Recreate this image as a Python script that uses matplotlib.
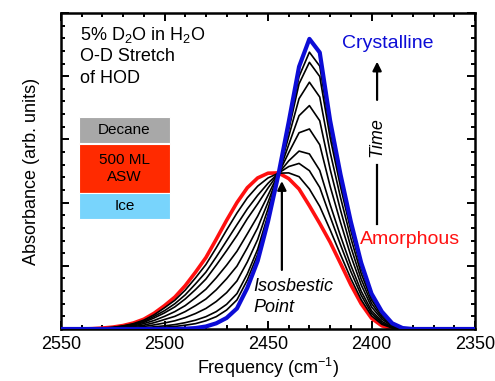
"""
Crystallization of amorphous solid water: O-D stretch of HOD
"""

import matplotlib
matplotlib.use("Agg")
import matplotlib.pyplot as plt
from matplotlib.patches import Rectangle
from matplotlib.ticker import MultipleLocator

plt.rcParams["font.family"] = ["Liberation Sans", "DejaVu Sans"]
plt.rcParams["mathtext.fontset"] = "custom"
plt.rcParams["mathtext.rm"] = "Liberation Sans"
plt.rcParams["mathtext.it"] = "Liberation Sans:italic"

# ----------------------------------------------------------------------
# Data
# ----------------------------------------------------------------------

freq = [2550, 2540, 2535, 2530, 2525, 2520, 2515, 2510, 2505, 2500, 2495,
        2490, 2485, 2480, 2475, 2470, 2465, 2460, 2455, 2450, 2445, 2440,
        2435, 2430, 2425, 2420, 2415, 2410, 2405, 2400, 2395, 2390, 2385,
        2380, 2350]

amorphous = [0, 0, 0.001, 0.003, 0.006, 0.011, 0.019, 0.031, 0.050, 0.074,
             0.101, 0.137, 0.180, 0.226, 0.284, 0.344, 0.400, 0.447, 0.478,
             0.493, 0.494, 0.476, 0.443, 0.390, 0.334, 0.275, 0.208, 0.140,
             0.080, 0.034, 0.010, 0.001, 0, 0, 0]

crystalline = [0, 0, 0, 0, 0, 0, 0, 0, 0, 0, 0, 0.001, 0.003, 0.008, 0.018,
               0.035, 0.065, 0.130, 0.215, 0.340, 0.488, 0.655, 0.830, 0.918,
               0.875, 0.660, 0.490, 0.340, 0.210, 0.112, 0.055, 0.018, 0.003,
               0, 0]

# intermediate spectra, earliest first
t1 = [0, 0, 0.001, 0.003, 0.005, 0.010, 0.017, 0.028, 0.045, 0.067, 0.091,
      0.123, 0.162, 0.204, 0.257, 0.313, 0.367, 0.415, 0.452, 0.478, 0.493,
      0.494, 0.482, 0.443, 0.388, 0.314, 0.236, 0.160, 0.093, 0.042, 0.015,
      0.003, 0, 0, 0]
t2 = [0, 0, 0.001, 0.002, 0.005, 0.009, 0.015, 0.024, 0.040, 0.058, 0.080,
      0.108, 0.143, 0.180, 0.228, 0.279, 0.330, 0.380, 0.423, 0.461, 0.493,
      0.514, 0.524, 0.501, 0.448, 0.356, 0.267, 0.182, 0.107, 0.050, 0.019,
      0.005, 0.001, 0, 0]
t3 = [0, 0, 0.001, 0.002, 0.004, 0.008, 0.013, 0.021, 0.035, 0.051, 0.070,
      0.095, 0.125, 0.158, 0.202, 0.248, 0.296, 0.349, 0.396, 0.446, 0.492,
      0.532, 0.563, 0.554, 0.502, 0.394, 0.295, 0.202, 0.120, 0.058, 0.024,
      0.006, 0.001, 0, 0]
t4 = [0, 0, 0.001, 0.002, 0.003, 0.006, 0.010, 0.017, 0.027, 0.040, 0.055,
      0.074, 0.099, 0.126, 0.162, 0.202, 0.246, 0.301, 0.357, 0.423, 0.491,
      0.558, 0.621, 0.633, 0.583, 0.452, 0.338, 0.232, 0.140, 0.070, 0.031,
      0.009, 0.001, 0, 0]
t5 = [0, 0, 0, 0.001, 0.002, 0.004, 0.008, 0.012, 0.020, 0.030, 0.040,
      0.055, 0.074, 0.095, 0.124, 0.159, 0.199, 0.257, 0.320, 0.401, 0.490,
      0.583, 0.675, 0.707, 0.659, 0.506, 0.377, 0.260, 0.158, 0.081, 0.037,
      0.011, 0.002, 0, 0]
t6 = [0, 0, 0, 0.001, 0.002, 0.003, 0.005, 0.008, 0.013, 0.019, 0.026,
      0.036, 0.049, 0.065, 0.087, 0.115, 0.152, 0.212, 0.283, 0.380, 0.490,
      0.609, 0.729, 0.781, 0.734, 0.560, 0.417, 0.288, 0.176, 0.092, 0.043,
      0.014, 0.002, 0, 0]
t7 = [0, 0, 0, 0, 0.001, 0.002, 0.003, 0.004, 0.007, 0.010, 0.014,
      0.020, 0.028, 0.039, 0.055, 0.078, 0.112, 0.174, 0.252, 0.361, 0.489,
      0.630, 0.776, 0.844, 0.799, 0.606, 0.451, 0.312, 0.192, 0.101, 0.049,
      0.016, 0.003, 0, 0]
t8 = [0, 0, 0, 0, 0, 0.001, 0.002, 0.002, 0.004, 0.006, 0.008,
      0.012, 0.017, 0.026, 0.039, 0.060, 0.092, 0.155, 0.236, 0.352, 0.489,
      0.641, 0.799, 0.876, 0.832, 0.629, 0.467, 0.324, 0.200, 0.106, 0.051,
      0.017, 0.003, 0, 0]
intermediates = [t1, t2, t3, t4, t5, t6, t7, t8]

layer_labels = ["Decane", "500 ML\nASW", "Ice"]

# ----------------------------------------------------------------------
# Figure
# ----------------------------------------------------------------------

BLUE = "#0c0cd6"
RED = "#ff1010"
layer_colors = ["#a8a8a8", "#ff2a00", "#78d4fc"]
layer_bounds = [(0.5886, 0.6709), (0.4304, 0.5854), (0.3481, 0.4304)]

fig = plt.figure(figsize=(4.95, 3.81), dpi=100)
ax = fig.add_axes([61 / 495, 52 / 381, 414 / 495, 316 / 381])

ax.plot(freq, amorphous, color=RED, lw=2.6, zorder=2)
for spec in intermediates:
    ax.plot(freq, spec, color="black", lw=1.2, zorder=3)
ax.plot(freq, crystalline, color=BLUE, lw=3.0, zorder=4)

ax.set_xlim(2550, 2350)
ax.set_ylim(0, 1)
ax.xaxis.set_major_locator(MultipleLocator(50))
ax.xaxis.set_minor_locator(MultipleLocator(10))
ax.yaxis.set_major_locator(MultipleLocator(0.2))
ax.yaxis.set_minor_locator(MultipleLocator(0.04))
ax.tick_params(which="both", direction="in", top=True, right=True, width=1.4,
               labelsize=13)
ax.tick_params(which="major", length=6)
ax.tick_params(which="minor", length=3)
ax.tick_params(axis="y", labelleft=False)
ax.tick_params(axis="x", pad=5)
for sp in ax.spines.values():
    sp.set_linewidth(1.8)

ax.set_xlabel("Frequency (cm$^{-1}$)", fontsize=13, labelpad=2)
ax.set_ylabel("Absorbance (arb. units)", fontsize=13, labelpad=12)

# sample description
ax.text(0.046, 0.914, "5% D$_2$O in H$_2$O", transform=ax.transAxes,
        fontsize=13, va="baseline")
ax.text(0.046, 0.848, "O-D Stretch", transform=ax.transAxes, fontsize=13,
        va="baseline")
ax.text(0.046, 0.778, "of HOD", transform=ax.transAxes, fontsize=13,
        va="baseline")

# film stack
for label, color, (y0, y1) in zip(layer_labels, layer_colors, layer_bounds):
    ax.add_patch(Rectangle((0.0435, y0), 0.2198, y1 - y0, transform=ax.transAxes,
                           facecolor=color, edgecolor="white", lw=0.8, zorder=5))
    ax.text(0.1534, (y0 + y1) / 2, label, transform=ax.transAxes, fontsize=11,
            ha="center", va="center", linespacing=1.25, zorder=6)

ax.text(2392.3, 0.902, "Crystalline", color=BLUE, fontsize=14, ha="center",
        va="center")
ax.text(2381.2, 0.282, "Amorphous", color=RED, fontsize=14, ha="center",
        va="center")

# time arrow
ax.annotate("", xy=(2397.3, 0.846), xytext=(2397.3, 0.725),
            arrowprops=dict(arrowstyle="-|>", color="black", lw=1.6,
                            mutation_scale=13, shrinkA=0, shrinkB=0))
ax.plot([2397.3, 2397.3], [0.518, 0.332], color="black", lw=1.6)
ax.text(2397.3, 0.608, "Time", rotation=90, style="italic", fontsize=13,
        ha="center", va="center")

# isosbestic point
ax.annotate("", xy=(2443.3, 0.468), xytext=(2443.3, 0.187),
            arrowprops=dict(arrowstyle="-|>", color="black", lw=1.6,
                            mutation_scale=13, shrinkA=0, shrinkB=0))
ax.text(2457.2, 0.133, "Isosbestic", style="italic", fontsize=13,
        ha="left", va="center")
ax.text(2457.2, 0.068, "Point", style="italic", fontsize=13,
        ha="left", va="center")

fig.savefig("out.png", dpi=100)
plt.close(fig)
